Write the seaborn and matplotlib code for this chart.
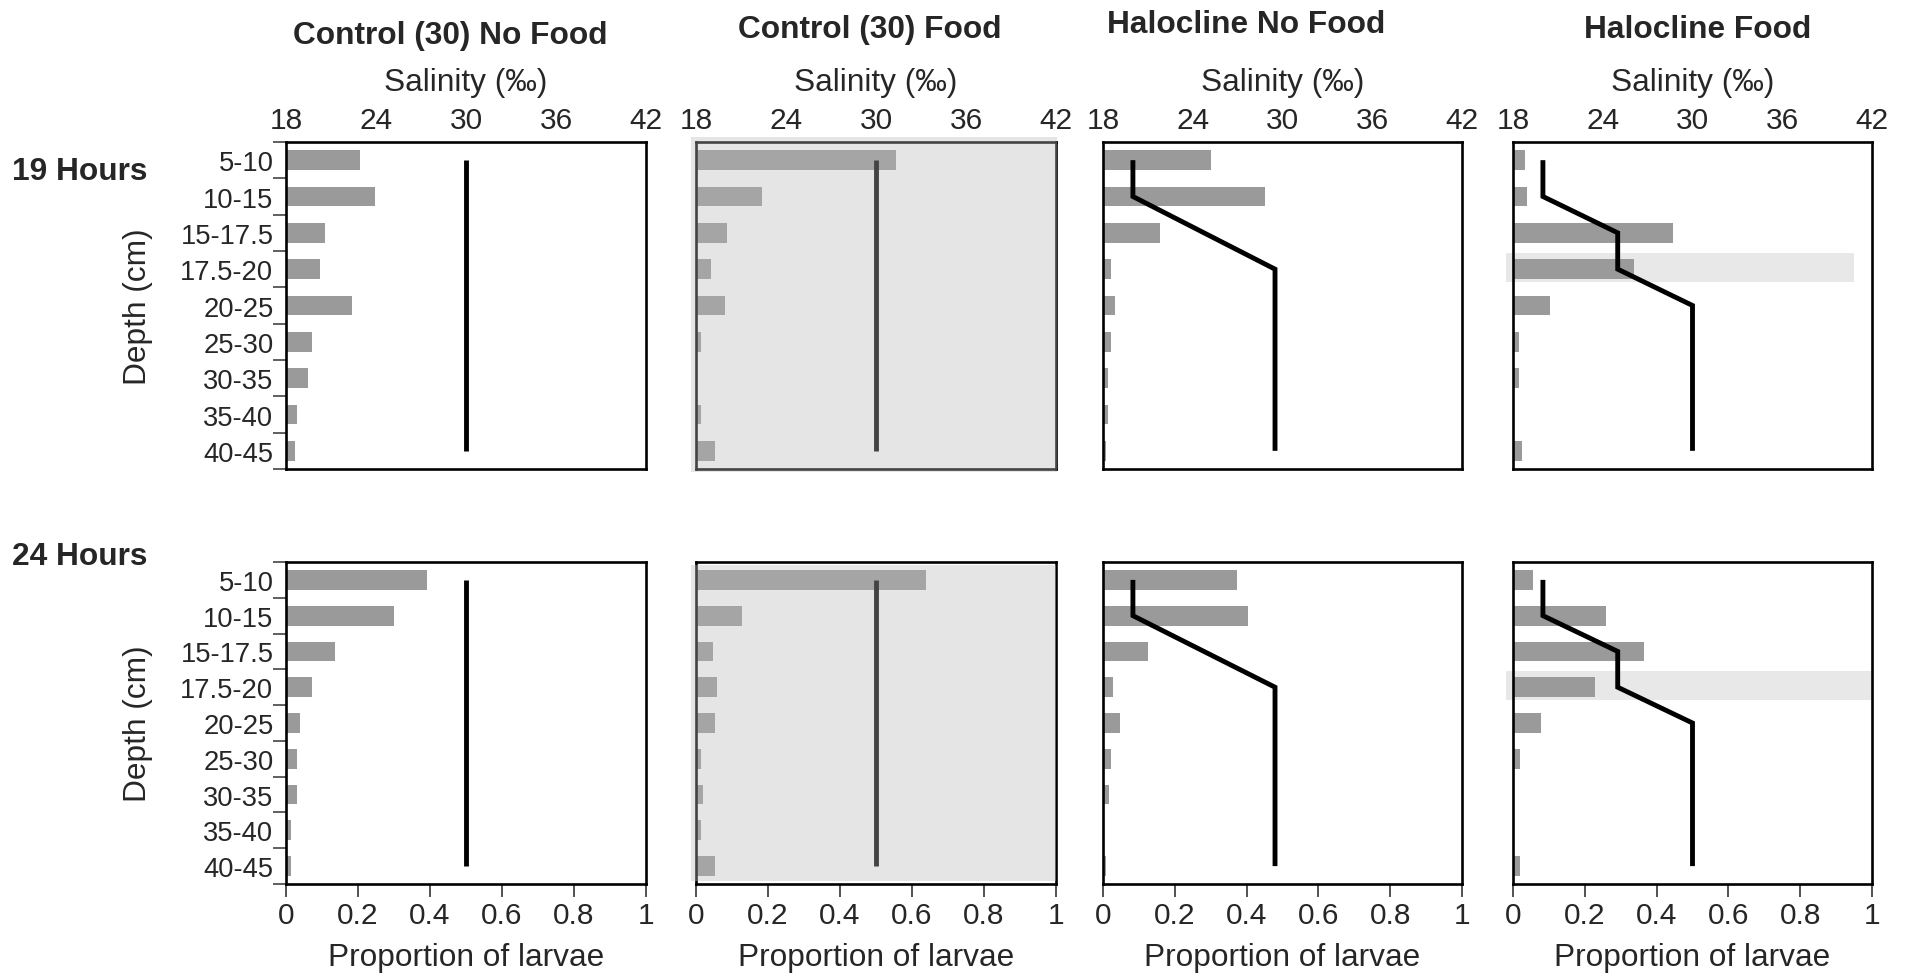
import numpy as np
import pandas as pd
import matplotlib
matplotlib.use("Agg")
import matplotlib.pyplot as plt
from matplotlib.patches import Rectangle
import seaborn as sns

# ---------------- data ----------------
depth = ["5-10", "10-15", "15-17.5", "17.5-20", "20-25", "25-30", "30-35", "35-40", "40-45"]
treatments = ["Control (30) No Food", "Control (30) Food", "Halocline No Food", "Halocline Food"]
hours = ["19 Hours", "24 Hours"]

h19_ctrl_nofood = [0.205, 0.248, 0.108, 0.095, 0.184, 0.073, 0.060, 0.031, 0.025]
h19_ctrl_food = [0.555, 0.184, 0.086, 0.042, 0.080, 0.014, 0.0, 0.014, 0.053]
h19_halo_nofood = [0.301, 0.452, 0.159, 0.021, 0.033, 0.021, 0.015, 0.015, 0.008]
h19_halo_food = [0.033, 0.040, 0.445, 0.336, 0.103, 0.018, 0.018, 0.0, 0.025]

h24_ctrl_nofood = [0.391, 0.300, 0.136, 0.072, 0.039, 0.030, 0.030, 0.013, 0.013]
h24_ctrl_food = [0.640, 0.129, 0.048, 0.059, 0.053, 0.013, 0.019, 0.013, 0.053]
h24_halo_nofood = [0.373, 0.404, 0.126, 0.027, 0.046, 0.021, 0.016, 0.0, 0.009]
h24_halo_food = [0.056, 0.260, 0.364, 0.229, 0.079, 0.019, 0.0, 0.0, 0.019]

sal_control = [30, 30, 30, 30, 30, 30, 30, 30, 30]
sal_halo_nofood = [20, 20, 24.75, 29.5, 29.5, 29.5, 29.5, 29.5, 29.5]
sal_halo_food = [20, 20, 25, 25, 30, 30, 30, 30, 30]

prop_ticks = [0, 0.2, 0.4, 0.6, 0.8, 1]
prop_ticklabels = ["0", "0.2", "0.4", "0.6", "0.8", "1"]
sal_ticks = [18, 24, 30, 36, 42]

props = [[h19_ctrl_nofood, h19_ctrl_food, h19_halo_nofood, h19_halo_food],
         [h24_ctrl_nofood, h24_ctrl_food, h24_halo_nofood, h24_halo_food]]
sals = [sal_control, sal_control, sal_halo_nofood, sal_halo_food]

# ---------------- style ----------------
sns.set_style("white")
plt.rcParams["font.family"] = ["Liberation Sans", "DejaVu Sans"]

W, H = 1908, 979
fig = plt.figure(figsize=(W / 100, H / 100), dpi=100)

col_px = [(286, 646), (696, 1056), (1103, 1462), (1513, 1872)]
row_px = [(143, 470), (563, 885)]

BAR = "#9a9a9a"
TICK_FS = 21.5
YTICK_FS = 19.7
LAB_FS = 22.8
ypos = np.arange(len(depth))

title_pos = [(450, 36), (870, 30), (1246, 25), (1698, 30)]
for t, (tx, ty) in zip(treatments, title_pos):
    fig.text(tx / W, 1 - ty / H, t, ha="center", va="center",
             fontsize=LAB_FS, fontweight="bold")
for hlab, hy in zip(hours, [172, 557]):
    fig.text(12 / W, 1 - hy / H, hlab, ha="left", va="center",
             fontsize=LAB_FS, fontweight="bold")

for r in range(2):
    for c in range(4):
        x0, x1 = col_px[c]
        y0, y1 = row_px[r]
        rect = [x0 / W, 1 - y1 / H, (x1 - x0) / W, (y1 - y0) / H]
        ax = fig.add_axes(rect)
        df = pd.DataFrame({"depth": depth, "prop": props[r][c]})
        sns.barplot(data=df, x="prop", y="depth", order=depth, orient="h",
                    color=BAR, saturation=1, width=0.55, linewidth=0, ax=ax)
        ax.set_xlim(0, 1)
        ax.set_ylim(len(depth) - 0.5, -0.5)
        ax.set_xlabel("")
        ax.set_ylabel("")
        for s in ax.spines.values():
            s.set_visible(True)
            s.set_color("black")
            s.set_linewidth(1.9)

        # highlighted halocline layer (Halocline Food)
        if c == 3:
            xmax = 0.951 if r == 0 else 1.003
            ax.axhspan(2.55, 3.35, xmin=-0.02, xmax=xmax, color="#e8e8e8",
                       zorder=0.5, clip_on=False, linewidth=0)

        # y axis
        if c == 0:
            ax.set_yticks(np.arange(-0.5, len(depth), 1), labels=[""] * (len(depth) + 1))
            ax.set_yticks(ypos, labels=depth, minor=True)
            ax.tick_params(axis="y", which="major", left=True, length=9.4,
                           width=1.2, color="#444444", direction="out")
            ax.tick_params(axis="y", which="minor", left=True, length=0,
                           pad=9, labelsize=YTICK_FS)
            ax.set_ylabel("Depth (cm)", fontsize=LAB_FS)
            ax.yaxis.set_label_coords(-0.37, 0.5)
        else:
            ax.set_yticks([])
            ax.set_yticks([], minor=True)

        # bottom x axis
        if r == 1:
            ax.set_xticks(prop_ticks, labels=prop_ticklabels)
            ax.tick_params(axis="x", bottom=True, length=9.4, width=1.2,
                           color="#333333", direction="out", labelsize=TICK_FS, pad=3)
            ax.set_xlabel("Proportion of larvae", fontsize=LAB_FS, labelpad=9.5)
        else:
            ax.set_xticks([])

        # salinity profile on top axis
        ax2 = fig.add_axes(rect)
        ax2.patch.set_visible(False)
        sns.lineplot(x=sals[c], y=ypos, sort=False, estimator=None, ax=ax2,
                     color="black", linewidth=3.5, solid_capstyle="butt",
                     solid_joinstyle="miter")
        ax2.set_xlim(sal_ticks[0], sal_ticks[-1])
        ax2.set_ylim(len(depth) - 0.5, -0.5)
        ax2.set_yticks([])
        ax2.set_ylabel("")
        for s in ax2.spines.values():
            s.set_visible(False)
        ax2.xaxis.set_ticks_position("top")
        ax2.xaxis.set_label_position("top")
        if r == 0:
            ax2.set_xticks(sal_ticks, labels=[str(v) for v in sal_ticks])
            ax2.tick_params(axis="x", top=True, bottom=False, length=0,
                            labelsize=TICK_FS, pad=6)
            ax2.set_xlabel("Salinity (‰)", fontsize=LAB_FS, labelpad=11)
        else:
            ax2.set_xticks([])
            ax2.set_xlabel("")

        # shaded overlay for the Control Food panels
        if c == 1:
            if r == 0:
                ov = Rectangle((-0.014, -0.01), 1.018, 1.024, transform=ax2.transAxes)
            else:
                ov = Rectangle((-0.015, 0.008), 1.015, 0.984, transform=ax2.transAxes)
            ov.set_facecolor("#bababa")
            ov.set_alpha(0.365)
            ov.set_linewidth(0)
            ov.set_zorder(10)
            ov.set_clip_on(False)
            ax2.add_patch(ov)

fig.savefig("out.png", dpi=100)
